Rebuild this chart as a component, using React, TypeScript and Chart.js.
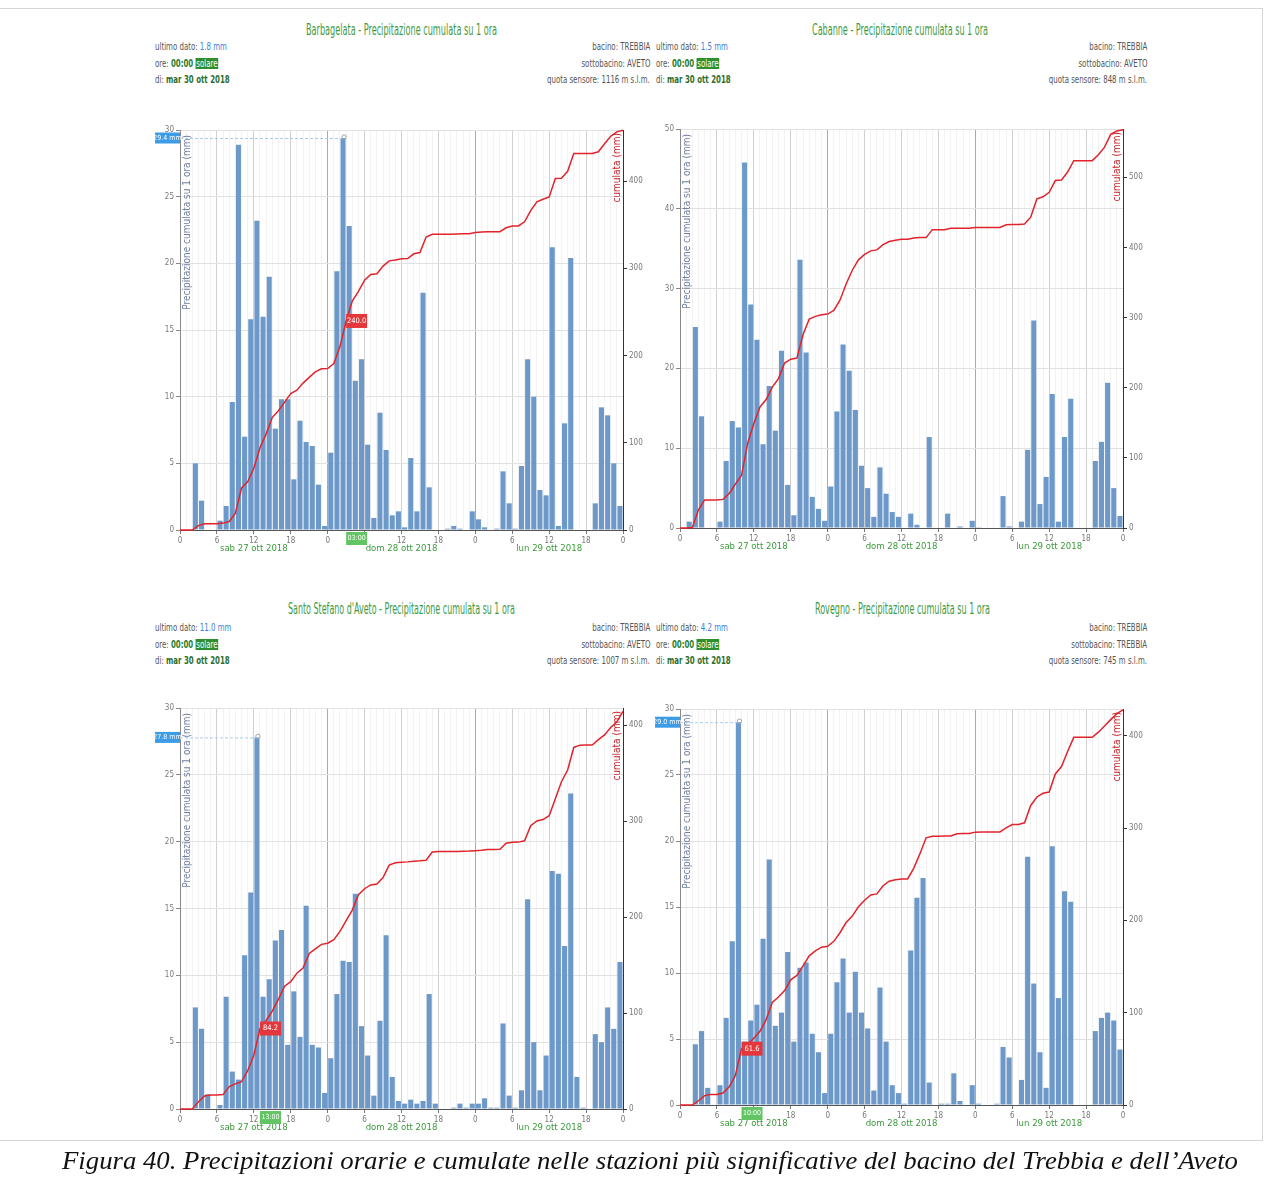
import React, { useEffect, useLayoutEffect, useRef } from 'react';
import { Chart, registerables } from 'chart.js';

Chart.register(...registerables);

// ---------------- DATA ----------------
const HOUR_TICK_LABELS = ['0', '6', '12', '18', '0', '6', '12', '18', '0', '6', '12', '18', '0'];
const DAY_LABELS = ['sab 27 ott 2018', 'dom 28 ott 2018', 'lun 29 ott 2018'];
const DAY_LABEL_HOURS = [12, 36, 60];

const stationNames = ['Barbagelata', 'Cabanne', "Santo Stefano d'Aveto", 'Rovegno'];
const basins = ['TREBBIA', 'TREBBIA', 'TREBBIA', 'TREBBIA'];
const subBasins = ['AVETO', 'AVETO', 'AVETO', 'TREBBIA'];
const sensorAltitudes = ['1116', '848', '1007', '745'];
const lastValues = ['1.8', '1.5', '11.0', '4.2'];
const LAST_TIME = '00:00';
const LAST_DATE = 'mar 30 ott 2018';

// hourly precipitation (mm), 27 ott 00:00 -> 30 ott 00:00, one value per hour
const barbagelataHourly = [
  0, 0, 5.0, 2.2, 0, 0,
  0.7, 1.8, 9.6, 28.9, 7.0, 15.8,
  23.2, 16.0, 19.0, 7.6, 9.8, 9.8,
  3.8, 8.2, 6.6, 6.3, 3.4, 0.3,
  5.8, 19.4, 29.4, 22.8, 11.2, 12.8,
  6.4, 0.9, 8.8, 6.0, 1.1, 1.4,
  0.2, 5.4, 1.4, 17.8, 3.2, 0,
  0, 0.1, 0.3, 0.1, 0, 1.4,
  0.8, 0.2, 0, 0.1, 4.4, 2.0,
  0.1, 4.8, 12.8, 10.0, 3.0, 2.6,
  21.2, 0.3, 8.0, 20.4, 0, 0,
  0, 2.0, 9.2, 8.6, 5.0, 1.8,
];
const cabanneHourly = [
  0, 0.8, 25.2, 14.0, 0, 0,
  0.8, 8.4, 13.4, 12.6, 45.8, 28.0,
  23.6, 10.5, 17.8, 12.2, 22.2, 5.4,
  1.6, 33.6, 22.0, 3.9, 2.4, 0.9,
  5.2, 14.6, 23.0, 19.7, 14.8, 7.8,
  5.0, 1.4, 7.6, 4.3, 2.0, 1.4,
  0, 1.8, 0.4, 0, 11.4, 0,
  0, 1.8, 0, 0.2, 0, 0.9,
  0.1, 0, 0, 0, 4.0, 0.2,
  0, 0.8, 9.8, 26.0, 3.0, 6.4,
  16.8, 0.8, 11.4, 16.2, 0, 0,
  0, 8.4, 10.8, 18.2, 5.0, 1.5,
];
const santoStefanoHourly = [
  0, 0, 7.6, 6.0, 1.1, 0,
  0.3, 8.4, 2.8, 2.2, 11.5, 16.2,
  27.8, 8.4, 9.7, 12.6, 13.4, 4.8,
  8.8, 5.4, 15.2, 4.8, 4.6, 1.2,
  3.8, 8.6, 11.1, 11.0, 16.1, 6.2,
  4.0, 1.0, 6.6, 13.0, 2.4, 0.6,
  0.4, 0.7, 0.4, 0.6, 8.6, 0.4,
  0, 0, 0.1, 0.4, 0.1, 0.4,
  0.4, 0.8, 0.1, 0.1, 6.4, 1.0,
  0.1, 1.4, 15.7, 5.0, 1.4, 4.0,
  17.8, 17.6, 12.2, 23.6, 2.4, 0.1,
  0, 5.6, 5.0, 7.6, 6.0, 11.0,
];
const rovegnoHourly = [
  0, 0, 4.6, 5.6, 1.3, 0,
  1.5, 6.6, 12.4, 29.0, 4.8, 6.4,
  7.6, 12.6, 18.6, 6.0, 7.0, 11.6,
  4.8, 10.4, 10.8, 5.4, 4.0, 0.9,
  5.4, 9.3, 11.1, 7.0, 10.1, 7.0,
  5.8, 1.1, 8.9, 4.8, 1.5, 0.9,
  0.1, 11.7, 15.7, 17.2, 1.7, 0,
  0.1, 0.1, 2.4, 0.3, 0, 1.5,
  0.1, 0, 0, 0.1, 4.4, 3.6,
  0, 1.9, 18.8, 9.2, 4.0, 1.3,
  19.6, 8.1, 16.2, 15.4, 0, 0,
  0, 5.6, 6.6, 7.0, 6.4, 4.2,
];
const hourlySeries = [barbagelataHourly, cabanneHourly, santoStefanoHourly, rovegnoHourly];

const hourlyAxisMax = [30, 50, 30, 30];
const hourlyAxisStep = [5, 10, 5, 5];
const cumulativeAxisMax = [458.5, 569, 418, 429];
const cumulativeAxisStep = 100;

const peakLabels = ['29.4 mm', null, '27.8 mm', '29.0 mm'];
const crosshairHours = [27, null, 13, 10];
const crosshairCumLabels = ['240.0', null, '84.2', '61.6'];
const crosshairTimeLabels = ['03:00', null, '13:00', '10:00'];

const CAPTION =
  'Figura 40. Precipitazioni orarie e cumulate nelle stazioni più significative del bacino del Trebbia e dell\u2019Aveto';

// ---------------- LAYOUT / STYLE ----------------
const FONT = "'Liberation Sans Narrow', 'DejaVu Sans Condensed', 'Arial Narrow', sans-serif";
const AXIS_L = 45;
const AXIS_R = 40;
const AXIS_B = 45;
const PAD_T = 30;
const PLOT_W = 443;

const PANEL_LAYOUT = [
  { plotLeft: 180, plotTop: 130, plotH: 400, titleX: 306, titleW: 191, titleTop: 22, infoTop: 41, infoLeft: 155, infoRight: 650 },
  { plotLeft: 680, plotTop: 129, plotH: 399, titleX: 812, titleW: 176, titleTop: 22, infoTop: 41, infoLeft: 656, infoRight: 1147 },
  { plotLeft: 180, plotTop: 708, plotH: 401, titleX: 288, titleW: 227, titleTop: 601, infoTop: 622, infoLeft: 155, infoRight: 650 },
  { plotLeft: 680, plotTop: 709, plotH: 396, titleX: 815, titleW: 175, titleTop: 601, infoTop: 622, infoLeft: 656, infoRight: 1147 },
];

function Fit({ left, top, width, style, children }: any) {
  const ref = useRef<HTMLSpanElement>(null);
  useLayoutEffect(() => {
    const el = ref.current;
    if (!el) return;
    el.style.transform = 'none';
    const w = el.getBoundingClientRect().width;
    if (w > 0) el.style.transform = `scaleX(${width / w})`;
  });
  return (
    <div style={{ position: 'absolute', left, top, width, whiteSpace: 'nowrap', ...style }}>
      <span ref={ref} style={{ display: 'inline-block', transformOrigin: '0 0' }}>
        {children}
      </span>
    </div>
  );
}

function Squeeze({ left, right, top, scale, children }: any) {
  const anchor: any = left !== undefined ? { left } : { right: 1281 - right };
  return (
    <div
      style={{
        position: 'absolute',
        top,
        ...anchor,
        whiteSpace: 'nowrap',
        fontSize: 10,
        lineHeight: '12px',
        color: '#555',
        transform: `scaleX(${scale})`,
        transformOrigin: left !== undefined ? 'left top' : 'right top',
      }}
    >
      {children}
    </div>
  );
}

const overlayPlugin = {
  id: 'overlays',
  afterDatasetsDraw(chart: any, _args: any, o: any) {
    const { ctx, chartArea: a, scales } = chart;
    const xs = scales.x;
    const ys = scales.y;
    const y1 = scales.y1;
    ctx.save();

    // axis titles inside plot
    ctx.textBaseline = 'middle';
    ctx.textAlign = 'right';
    ctx.font = `10px ${FONT}`;
    ctx.fillStyle = '#6f7fa3';
    ctx.save();
    ctx.translate(a.left + 7, a.top + 5);
    ctx.rotate(-Math.PI / 2);
    ctx.fillText('Precipitazione cumulata su 1 ora (mm)', 0, 0);
    ctx.restore();
    ctx.fillStyle = '#c8262c';
    ctx.font = `10px ${FONT}`;
    ctx.save();
    ctx.translate(a.right - 6, a.top + 3);
    ctx.rotate(-Math.PI / 2);
    ctx.fillText('cumulata (mm)', 0, 0);
    ctx.restore();

    // day labels
    ctx.textAlign = 'center';
    ctx.font = `9.5px ${FONT}`;
    ctx.fillStyle = '#3a9a3a';
    o.dayHours.forEach((h: number, k: number) => {
      ctx.fillText(o.dayLabels[k], xs.getPixelForValue(h), a.bottom + 19);
    });

    // peak marker
    if (o.peakLabel) {
      const hourly: number[] = o.hourly;
      let idx = 0;
      hourly.forEach((v, k) => {
        if (v > hourly[idx]) idx = k;
      });
      const px = xs.getPixelForValue(idx + 0.5);
      const py = ys.getPixelForValue(hourly[idx]);
      ctx.strokeStyle = '#a7cbef';
      ctx.lineWidth = 1;
      ctx.setLineDash([3, 2]);
      ctx.beginPath();
      ctx.moveTo(a.left, py + 0.5);
      ctx.lineTo(px, py + 0.5);
      ctx.stroke();
      ctx.setLineDash([]);
      ctx.beginPath();
      ctx.arc(px + 1, py - 1, 2.2, 0, Math.PI * 2);
      ctx.strokeStyle = '#9aa6b4';
      ctx.stroke();
      ctx.fillStyle = '#3c9de6';
      ctx.fillRect(a.left - 25, py - 5.5, 25, 11);
      ctx.fillStyle = '#fff';
      ctx.font = `7px ${FONT}`;
      ctx.fillText(o.peakLabel, a.left - 12.5, py);
    }

    // crosshair labels
    if (o.crossHour !== null && o.crossHour !== undefined) {
      const cx = xs.getPixelForValue(o.crossHour);
      const cy = y1.getPixelForValue(o.cumulative[o.crossHour]);
      ctx.fillStyle = '#e3373c';
      ctx.fillRect(cx, cy - 7, 21, 14);
      ctx.fillStyle = '#fff';
      ctx.font = `7.5px ${FONT}`;
      ctx.fillText(o.crossCum, cx + 10.5, cy);
      ctx.fillStyle = '#63c463';
      ctx.fillRect(cx, a.bottom + 2, 21, 13);
      ctx.fillStyle = '#fff';
      ctx.font = `7px ${FONT}`;
      ctx.fillText(o.crossTime, cx + 10.5, a.bottom + 8.5);
    }
    ctx.restore();
  },
};

function Panel({ i }: { i: number }) {
  const L = PANEL_LAYOUT[i];
  const ref = useRef<HTMLCanvasElement>(null);
  const W = AXIS_L + PLOT_W + AXIS_R;
  const H = PAD_T + L.plotH + AXIS_B;

  useEffect(() => {
    const hourly = hourlySeries[i];
    // cumulative curve = running total of the hourly values above
    const cumulative: number[] = [0];
    hourly.forEach((v) => cumulative.push(Math.round((cumulative[cumulative.length - 1] + v) * 100) / 100));
    const hourTicks = cumulative.map((_, k) => k);
    const leftTicks: number[] = [];
    for (let v = 0; v <= hourlyAxisMax[i]; v += hourlyAxisStep[i]) leftTicks.push(v);
    const rightTicks: number[] = [];
    for (let v = 0; v <= cumulativeAxisMax[i]; v += cumulativeAxisStep) rightTicks.push(v);
    const tickFont = { size: 8, family: FONT };

    const chart = new Chart(ref.current as HTMLCanvasElement, {
      type: 'bar',
      data: {
        datasets: [
          {
            type: 'line',
            label: 'cumulata',
            data: cumulative.map((y, k) => ({ x: k, y })),
            yAxisID: 'y1',
            borderColor: '#e2232b',
            borderWidth: 1.5,
            pointRadius: 0,
            tension: 0,
            order: 0,
            clip: false,
          } as any,
          {
            type: 'bar',
            label: 'oraria',
            data: hourly.map((y, k) => ({ x: k + 0.5, y })),
            yAxisID: 'y',
            backgroundColor: '#6c99c9',
            barPercentage: 0.82,
            categoryPercentage: 1,
            order: 1,
          } as any,
        ],
      },
      options: {
        responsive: false,
        animation: false,
        devicePixelRatio: 1,
        layout: { padding: { top: PAD_T, left: 0, right: 0, bottom: 0 } },
        plugins: {
          legend: { display: false },
          tooltip: { enabled: false },
          overlays: {
            hourly,
            cumulative,
            dayHours: DAY_LABEL_HOURS,
            dayLabels: DAY_LABELS,
            peakLabel: peakLabels[i],
            crossHour: crosshairHours[i],
            crossCum: crosshairCumLabels[i],
            crossTime: crosshairTimeLabels[i],
          },
        } as any,
        scales: {
          x: {
            type: 'linear',
            min: 0,
            max: hourTicks[hourTicks.length - 1],
            offset: false,
            afterBuildTicks: (s: any) => {
              s.ticks = hourTicks.map((v) => ({ value: v }));
            },
            afterFit: (s: any) => {
              s.height = AXIS_B;
            },
            ticks: {
              autoSkip: false,
              maxRotation: 0,
              minRotation: 0,
              padding: 2,
              color: '#777',
              font: tickFont,
              callback: (v: any) => (Number(v) % 6 === 0 ? HOUR_TICK_LABELS[Number(v) / 6] : ''),
            },
            grid: {
              offset: false,
              tickLength: 4,
              color: (c: any) => {
                const v = c.tick ? c.tick.value : 1;
                if (v % 24 === 0) return '#a9a9a9';
                if (v % 6 === 0) return '#d0d0d0';
                return '#f2f2f2';
              },
              tickColor: (c: any) => (c.tick && c.tick.value % 6 === 0 ? '#777' : 'rgba(0,0,0,0)'),
            },
            border: { color: '#555' },
          },
          y: {
            type: 'linear',
            position: 'left',
            min: 0,
            max: hourlyAxisMax[i],
            afterBuildTicks: (s: any) => {
              s.ticks = leftTicks.map((v) => ({ value: v }));
            },
            afterFit: (s: any) => {
              s.width = AXIS_L;
            },
            ticks: { color: '#777', font: tickFont, padding: 2 },
            grid: { color: '#e1e1e1', tickLength: 4, tickColor: '#888' },
            border: { color: '#8a8a8a' },
          },
          y1: {
            type: 'linear',
            position: 'right',
            min: 0,
            max: cumulativeAxisMax[i],
            afterBuildTicks: (s: any) => {
              s.ticks = rightTicks.map((v) => ({ value: v }));
            },
            afterFit: (s: any) => {
              s.width = AXIS_R;
            },
            ticks: { color: '#777', font: tickFont, padding: 2 },
            grid: { drawOnChartArea: false, color: '#333', tickLength: 4 },
            border: { color: '#333' },
          },
        } as any,
      },
      plugins: [overlayPlugin as any],
    });
    return () => chart.destroy();
  }, [i]);

  const leftLines = [
    <>
      ultimo dato: <span style={{ color: '#3a80d8' }}>{lastValues[i]} mm</span>
    </>,
    <>
      ore: <span style={{ color: '#2e7d2e', fontWeight: 'bold' }}>{LAST_TIME}</span>{' '}
      <span style={{ background: '#2d8f2d', color: '#fff', padding: '0 1px' }}>solare</span>
    </>,
    <>
      di: <span style={{ color: '#2e6e2e', fontWeight: 'bold' }}>{LAST_DATE}</span>
    </>,
  ];
  const rightLines = [
    `bacino: ${basins[i]}`,
    `sottobacino: ${subBasins[i]}`,
    `quota sensore: ${sensorAltitudes[i]} m s.l.m.`,
  ];

  return (
    <>
      <Fit
        left={L.titleX}
        top={L.titleTop}
        width={L.titleW}
        style={{ fontSize: 15, lineHeight: '16px', color: '#3f9a3f', fontFamily: FONT }}
      >
        {`${stationNames[i]} - Precipitazione cumulata su 1 ora`}
      </Fit>
      {leftLines.map((n, k) => (
        <Squeeze key={'l' + k} left={L.infoLeft} top={L.infoTop + k * 16.5} scale={0.78}>
          {n}
        </Squeeze>
      ))}
      {rightLines.map((t, k) => (
        <Squeeze key={'r' + k} right={L.infoRight} top={L.infoTop + k * 16.5} scale={0.78}>
          {t}
        </Squeeze>
      ))}
      <canvas
        ref={ref}
        width={W}
        height={H}
        style={{ position: 'absolute', left: L.plotLeft - AXIS_L, top: L.plotTop - PAD_T, width: W, height: H }}
      />
    </>
  );
}

export default function App() {
  return (
    <div
      style={{
        position: 'absolute',
        left: 0,
        top: 0,
        width: 1281,
        height: 1180,
        background: '#fff',
        overflow: 'hidden',
        fontFamily: FONT,
      }}
    >
      <div
        style={{
          position: 'absolute',
          left: -1,
          top: 8,
          width: 1264,
          height: 1133,
          borderTop: '1px solid #d6d6d6',
          borderRight: '1px solid #d6d6d6',
          borderBottom: '1px solid #d6d6d6',
          boxSizing: 'border-box',
        }}
      />
      {PANEL_LAYOUT.map((_, i) => (
        <Panel key={i} i={i} />
      ))}
      <Fit
        left={62}
        top={1147}
        width={1176}
        style={{ fontFamily: "'Liberation Serif', 'Times New Roman', Times, serif", fontStyle: 'italic', fontSize: 25, lineHeight: '28px', color: '#111' }}
      >
        {CAPTION}
      </Fit>
    </div>
  );
}
